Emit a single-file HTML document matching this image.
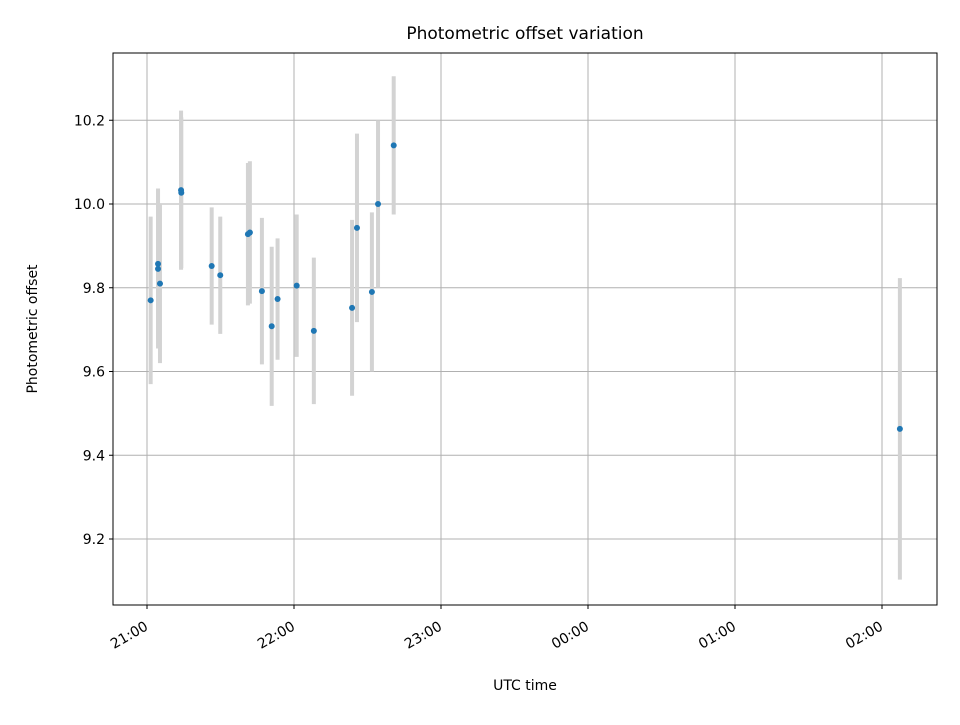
<!DOCTYPE html>
<html><head><meta charset="utf-8"><style>
body{margin:0;background:#fff;font-family:"Liberation Sans","DejaVu Sans",sans-serif}
text{font-family:"DejaVu Sans","Liberation Sans",sans-serif}
</style></head><body>
<svg id="chart" width="960" height="720" xmlns="http://www.w3.org/2000/svg"></svg>
<script>
// minutes after 21:00 UTC
const times=[1.5,4.5,4.5,5.3,13.9,14.0,26.4,29.9,41.2,42.0,46.9,50.9,53.3,61.1,68.1,83.7,85.7,91.8,94.3,100.7,307.3];
const offsets=[9.77,9.857,9.845,9.81,10.033,10.027,9.852,9.83,9.928,9.932,9.792,9.708,9.773,9.805,9.697,9.752,9.943,9.79,10.0,10.14,9.463];
const errors=[0.2,0.18,0.19,0.19,0.19,0.18,0.14,0.14,0.17,0.17,0.175,0.19,0.145,0.17,0.175,0.21,0.225,0.19,0.2,0.165,0.36];
const yTicks=[9.2,9.4,9.6,9.8,10.0,10.2];
const yTickLabels=["9.2","9.4","9.6","9.8","10.0","10.2"];
const xTicks=[0,60,120,180,240,300];
const xTickLabels=["21:00","22:00","23:00","00:00","01:00","02:00"];

const svg=document.getElementById('chart');
const NS='http://www.w3.org/2000/svg';
const L=113,R=937,T=53,B=605;
const xs=m=>147+m*147/60;
const ys=v=>204-(v-10)*418.75;
function mk(tag,attrs,parent){const e=document.createElementNS(NS,tag);for(const k in attrs)e.setAttribute(k,attrs[k]);(parent||svg).appendChild(e);return e;}

const grid=mk('g',{});


xTicks.forEach((t,i)=>{
  const x=xs(t);
  const g=mk('line',{x1:x,x2:x,y1:T,y2:B,stroke:'#b0b0b0','stroke-width':1},grid);
  
  
  mk('line',{x1:x,x2:x,y1:B,y2:B+4,stroke:'#000'});
  const ax=x+2, ay=B+24;
  const tx=mk('text',{x:ax,y:ay,'font-size':14,'text-anchor':'end',transform:`rotate(-30 ${ax} ${ay})`});
  tx.textContent=xTickLabels[i];
  
  
});
yTicks.forEach((t,i)=>{
  const y=ys(t);
  const g=mk('line',{x1:L,x2:R,y1:y,y2:y,stroke:'#b0b0b0','stroke-width':1},grid);
  
  
  mk('line',{x1:L-4,x2:L,y1:y,y2:y,stroke:'#000'});
  const tx=mk('text',{x:L-8,y:y+5,'font-size':14,'text-anchor':'end'});
  tx.textContent=yTickLabels[i];
  
  
});
const bars=mk('g',{});


const pts=mk('g',{});


times.forEach((t,i)=>{
  const x=xs(t);
  const b=mk('line',{x1:x,x2:x,y1:ys(offsets[i]+errors[i]),y2:ys(offsets[i]-errors[i]),stroke:'#d3d3d3','stroke-width':4},bars);
  
  
});
times.forEach((t,i)=>{
  const c=mk('circle',{cx:xs(t),cy:ys(offsets[i]),r:3,fill:'#1f77b4'},pts);
  
  
});
const frame=mk('rect',{x:L,y:T,width:R-L,height:B-T,fill:'none',stroke:'#000','stroke-width':1});


const title=mk('text',{x:(L+R)/2,y:39,'font-size':17,'text-anchor':'middle'});
title.textContent='Photometric offset variation';


const xl=mk('text',{x:(L+R)/2,y:690,'font-size':14,'text-anchor':'middle'});
xl.textContent='UTC time';


const yl=mk('text',{x:37,y:329,'font-size':14,'text-anchor':'middle',transform:'rotate(-90 37 329)'});
yl.textContent='Photometric offset';


</script>
</body></html>
